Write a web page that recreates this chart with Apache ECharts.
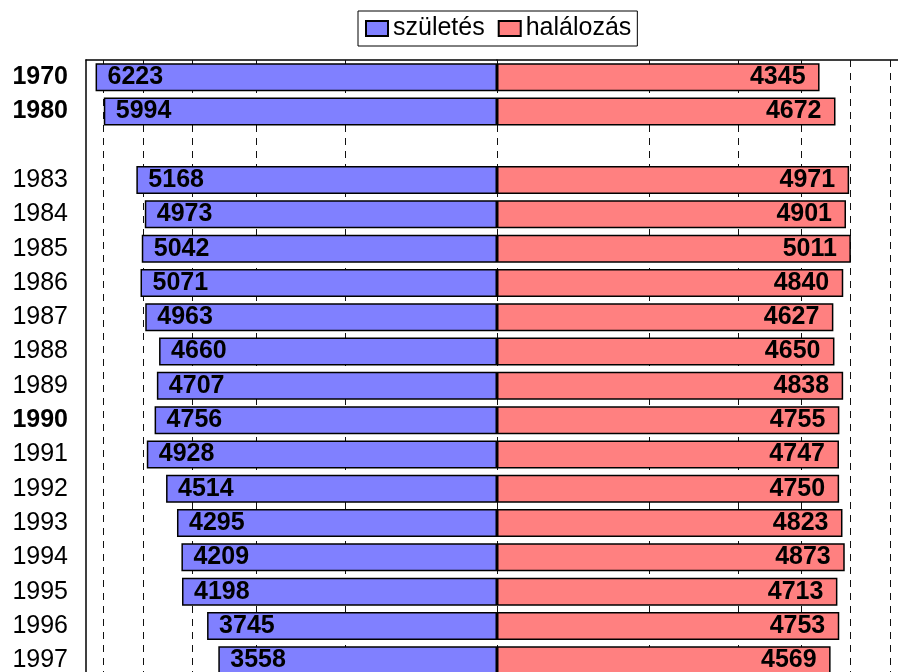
<!DOCTYPE html>
<html><head><meta charset="utf-8">
<script src="https://cdn.jsdelivr.net/npm/echarts@6/dist/echarts.min.js"></script>
<style>html,body{margin:0;padding:0;background:#fff}#c{width:898px;height:672px}</style>
</head><body><div id="c"></div>
<script>
const years = ['1970','1980','','1983','1984','1985','1986','1987','1988','1989','1990','1991','1992','1993','1994','1995','1996','1997'];
const boldYears = ['1970','1980','1990'];
const births = [6223,5994,'-',5168,4973,5042,5071,4963,4660,4707,4756,4928,4514,4295,4209,4198,3745,3558];
const deaths = [4345,4672,'-',4971,4901,5011,4840,4627,4650,4838,4755,4747,4750,4823,4873,4713,4753,4569];
const gridValues = [1000,2000,3000,4000,5000,6000];
const seriesNames = ['születés','halálozás'];
const axisMin = 1000, axisMax = 6500;

const FONT = "'Liberation Sans', Arial, sans-serif";
const chart = echarts.init(document.getElementById('c'));

const yData = years.map(y => ({value: y, textStyle: {fontWeight: boldYears.includes(y) ? 'bold' : 'normal'}}));
const gridLine = {
  silent: true, symbol: 'none', z: 1, animation: false,
  label: {show: false},
  lineStyle: {type: [7, 6], color: '#111', width: 1},
  emphasis: {disabled: true},
  data: gridValues.map(v => ({xAxis: v}))
};

chart.setOption({
  animation: false,
  backgroundColor: '#fff',
  textStyle: {fontFamily: FONT},
  legend: {
    data: seriesNames,
    left: 358, top: 11,
    orient: 'horizontal',
    icon: 'rect',
    itemWidth: 22, itemHeight: 15, itemGap: 13,
    borderColor: '#000', borderWidth: 1,
    padding: [4, 6, 4, 7],
    textStyle: {fontSize: 25, color: '#000', fontFamily: FONT, lineHeight: 27}
  },
  grid: [
    {left: 86, top: 60, width: 411, height: 617.4, containLabel: false, outerBoundsMode: 'none'},
    {left: 497, top: 60, width: 411, height: 617.4, containLabel: false, outerBoundsMode: 'none'}
  ],
  xAxis: [
    {gridIndex: 0, type: 'log', logBase: 10, min: axisMin, max: axisMax, inverse: true, startValue: axisMin,
     position: 'top',
     axisLine: {show: true, onZero: false, lineStyle: {color: '#000', width: 1.5}},
     axisTick: {show: false}, axisLabel: {show: false}, splitLine: {show: false}},
    {gridIndex: 1, type: 'log', logBase: 10, min: axisMin, max: axisMax, startValue: axisMin,
     position: 'top',
     axisLine: {show: true, onZero: false, lineStyle: {color: '#000', width: 1.5}},
     axisTick: {show: false}, axisLabel: {show: false}, splitLine: {show: false}}
  ],
  yAxis: [
    {gridIndex: 0, type: 'category', inverse: true, data: yData,
     axisLine: {show: true, onZero: false, lineStyle: {color: '#000', width: 1.5}},
     axisTick: {show: false},
     axisLabel: {fontSize: 25, color: '#000', margin: 18, fontFamily: FONT}},
    {gridIndex: 1, type: 'category', inverse: true, data: years, show: false}
  ],
  series: [
    {name: seriesNames[0], type: 'bar', xAxisIndex: 0, yAxisIndex: 0, data: births,
     barWidth: 28,
     itemStyle: {color: '#8080FF', borderColor: '#000', borderWidth: 1.5},
     label: {show: true, position: 'insideLeft', distance: 12, color: '#000', fontSize: 25, fontWeight: 'bold', fontFamily: FONT},
     markLine: gridLine},
    {name: seriesNames[1], type: 'bar', xAxisIndex: 1, yAxisIndex: 1, data: deaths,
     barWidth: 28,
     itemStyle: {color: '#FF8080', borderColor: '#000', borderWidth: 1.5},
     label: {show: true, position: 'insideRight', distance: 14, color: '#000', fontSize: 25, fontWeight: 'bold', fontFamily: FONT},
     markLine: gridLine}
  ]
});
</script></body></html>
